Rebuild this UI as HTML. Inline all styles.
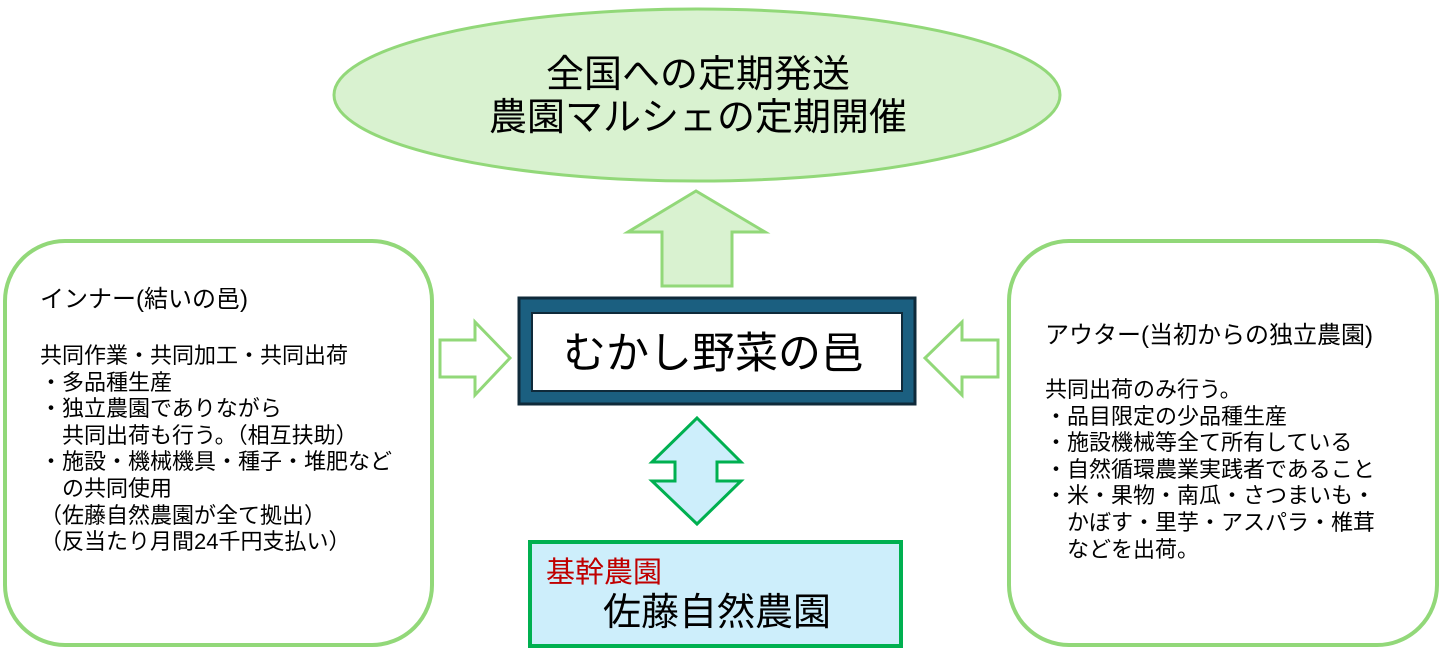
<!DOCTYPE html>
<html><head><meta charset="utf-8"><style>
body{margin:0;width:1440px;height:658px;background:#fff;position:relative;overflow:hidden;font-family:"Liberation Sans","Noto Sans CJK JP",sans-serif;color:#000}
.t{position:absolute;white-space:pre;line-height:1}
</style></head><body>
<svg width="1440" height="658" style="position:absolute;left:0;top:0">
<ellipse cx="697" cy="95" rx="363" ry="86" fill="#d9f2d0" stroke="#92d879" stroke-width="3"/>
<polygon points="696,191 628,232 662,232 662,286 732,286 732,232 765,232" fill="#d9f2d0" stroke="#92d879" stroke-width="3"/>
<rect x="5" y="241" width="427" height="404" rx="60" fill="#fff" stroke="#92d879" stroke-width="4"/>
<rect x="1009" y="241" width="428" height="404" rx="60" fill="#fff" stroke="#92d879" stroke-width="4"/>
<polygon points="440,340 475,340 475,322 510,358 475,395 475,377 440,377" fill="#fff" stroke="#92d879" stroke-width="3"/>
<polygon points="998,340 962,340 962,322 925,358 962,395 962,377 998,377" fill="#fff" stroke="#92d879" stroke-width="3"/>
<rect x="519" y="298" width="396" height="106" fill="#1b5f80" stroke="#0f2a3a" stroke-width="3"/>
<rect x="532" y="313" width="370" height="78" fill="#fff" stroke="#0f2a3a" stroke-width="2"/>
<polygon points="697,418 741,462 717,462 717,481 741,481 697,524 652,481 675,481 675,462 652,462" fill="#cdeefb" stroke="#00b050" stroke-width="3"/>
<rect x="530" y="542" width="371" height="104" fill="#cdeefb" stroke="#00b050" stroke-width="4"/>
</svg>
<div class="t" style="left:0;width:1396px;text-align:center;top:56px;font-size:38px">全国への定期発送</div>
<div class="t" style="left:0;width:1396px;text-align:center;top:99px;font-size:38px">農園マルシェの定期開催</div>
<div class="t" style="left:563px;top:333px;font-size:43px">むかし野菜の邑</div>
<div class="t" style="left:546px;top:559px;font-size:29px;color:#c00000">基幹農園</div>
<div class="t" style="left:603px;top:594px;font-size:38px">佐藤自然農園</div>
<div class="t" style="left:40px;top:288px;font-size:24px">インナー(結いの邑)</div>
<div style="position:absolute;left:40px;top:343px;font-size:22px;line-height:26.6px;white-space:pre">共同作業・共同加工・共同出荷
・多品種生産
・独立農園でありながら
　共同出荷も行う。（相互扶助）
・施設・機械機具・種子・堆肥など
　の共同使用
（佐藤自然農園が全て拠出）
（反当たり月間24千円支払い）</div>
<div class="t" style="left:1045px;top:324px;font-size:24px">アウター(当初からの独立農園)</div>
<div style="position:absolute;left:1045px;top:377px;font-size:22px;line-height:26.6px;white-space:pre">共同出荷のみ行う。
・品目限定の少品種生産
・施設機械等全て所有している
・自然循環農業実践者であること
・米・果物・南瓜・さつまいも・
　かぼす・里芋・アスパラ・椎茸
　などを出荷。</div>
</body></html>
